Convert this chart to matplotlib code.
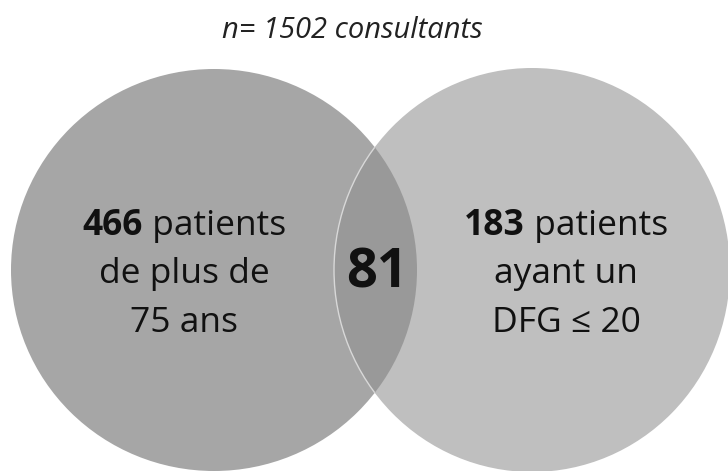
import matplotlib
matplotlib.use('Agg')
from matplotlib import pyplot as plt
from matplotlib.patches import Ellipse

# values
title = 'n= 1502 consultants'
count_left = 466
count_right = 183
count_both = 81
label_left = ['patients', 'de plus de', '75 ans']
label_right = ['patients', 'ayant un', 'DFG ≤ 20']

plt.rcParams['font.family'] = ['Open Sans', 'DejaVu Sans']

fig = plt.figure(figsize=(7.28, 4.71), dpi=100)
ax = fig.add_axes([0, 0, 1, 1])
ax.set_xlim(0, 728)
ax.set_ylim(471, 0)
ax.set_aspect('equal')
ax.axis('off')

# the two sets
left = Ellipse((214, 270), 406, 402, facecolor='#a6a6a6', edgecolor='none')
right = Ellipse((532, 270), 396, 404, facecolor='#bfbfbf', edgecolor='none')
ax.add_patch(left)
ax.add_patch(right)

# overlap, darker, clipped to the left circle
both = Ellipse((532, 270), 396, 404, facecolor='#999999', edgecolor='#d8d8d8', linewidth=1.0)
ax.add_patch(both)
both.set_clip_path(left)

ax.text(352, 31, title, ha='center', va='center', fontsize=21, style='italic', color='#222222')

renderer = fig.canvas.get_renderer()


def rich_line(x, y, bold, rest, size):
    # bold number followed by normal text, centred together on x
    t1 = ax.text(0, y, bold, ha='left', va='center', fontsize=size, fontweight='bold', color='#111111')
    t2 = ax.text(0, y, ' ' + rest, ha='left', va='center', fontsize=size, color='#111111')
    w1 = t1.get_window_extent(renderer).width
    w2 = t2.get_window_extent(renderer).width
    x0 = x - (w1 + w2) / 2
    t1.set_x(x0)
    t2.set_x(x0 + w1)


def venn_label(x, count, lines, size=25.5):
    rich_line(x, 226, str(count), lines[0], size)
    ax.text(x, 274, lines[1], ha='center', va='center', fontsize=size, color='#111111')
    ax.text(x, 323, lines[2], ha='center', va='center', fontsize=size, color='#111111')


venn_label(184, count_left, label_left)
venn_label(566, count_right, label_right)
ax.text(377, 273, str(count_both), ha='center', va='center', fontsize=39, fontweight='bold', color='#111111')

plt.savefig('out.png', dpi=100)
